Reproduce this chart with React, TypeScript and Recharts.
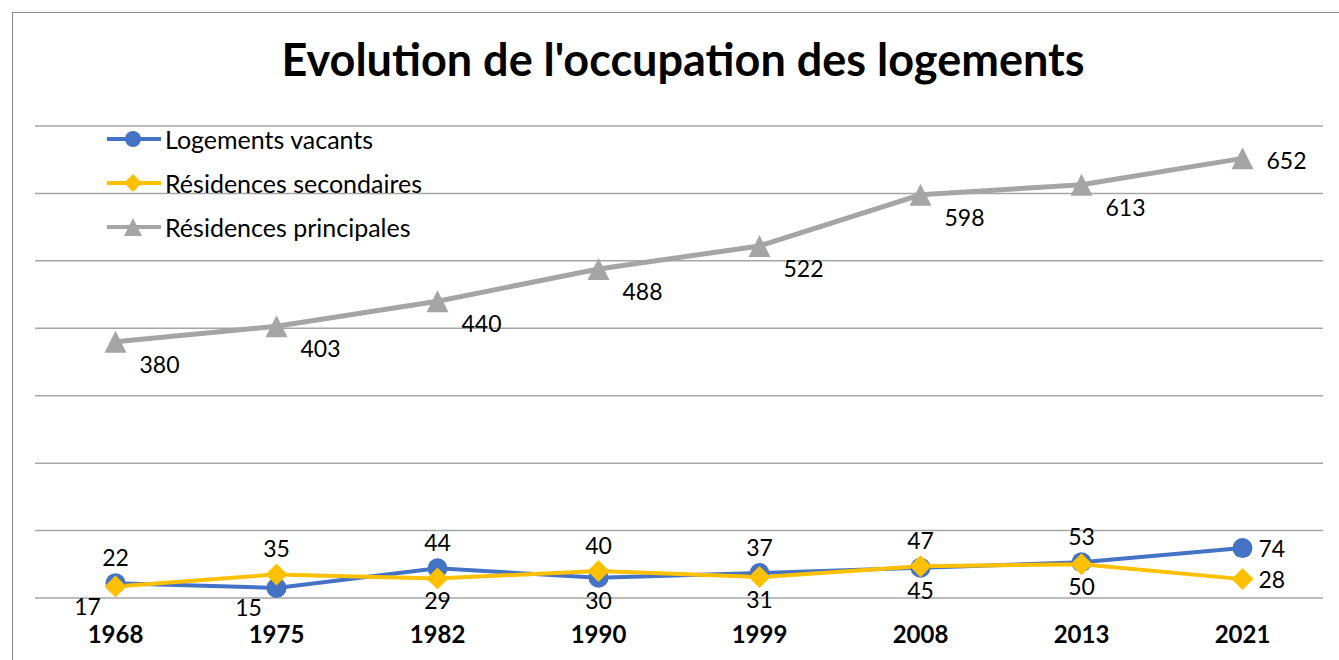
import { LineChart, Line, XAxis, YAxis, CartesianGrid, LabelList } from "recharts";

const years = ["1968", "1975", "1982", "1990", "1999", "2008", "2013", "2021"];
const vacants = [22, 15, 44, 30, 37, 45, 53, 74];
const secondaires = [17, 35, 29, 40, 31, 47, 50, 28];
const principales = [380, 403, 440, 488, 522, 598, 613, 652];
const yTicks = [0, 100, 200, 300, 400, 500, 600, 700];

const series = [
  { key: "vacants", name: "Logements vacants", color: "#4472C4", shape: "circle" },
  { key: "secondaires", name: "Résidences secondaires", color: "#FFC000", shape: "diamond" },
  { key: "principales", name: "Résidences principales", color: "#A5A5A5", shape: "triangle" },
];

const data = years.map((year, i) => ({
  year,
  vacants: vacants[i],
  secondaires: secondaires[i],
  principales: principales[i],
}));

const FONT = "Lato, 'Open Sans', sans-serif";

function Marker({ cx, cy, shape, color, size = 11 }: any) {
  if (cx == null || cy == null) return null;
  if (shape === "circle") return <circle cx={cx} cy={cy} r={size - 1} fill={color} />;
  if (shape === "diamond")
    return (
      <polygon
        points={`${cx},${cy - size} ${cx + size},${cy} ${cx},${cy + size} ${cx - size},${cy}`}
        fill={color}
      />
    );
  return (
    <polygon
      points={`${cx},${cy - size} ${cx + size},${cy + size} ${cx - size},${cy + size}`}
      fill={color}
    />
  );
}

// higher of the two small series gets its label above, the lower one below
function smallLabel(own: number[], other: number[]) {
  return (props: any) => {
    const { x, y, index, value } = props;
    const last = index === own.length - 1;
    if (last) {
      return (
        <text x={x + 16} y={y} dominantBaseline="central" fontSize={23} fontFamily={FONT} fill="#000">
          {value}
        </text>
      );
    }
    const above = own[index] >= other[index];
    // very low labels slide left so they clear the year labels
    const low = !above && own[index] < 20;
    return (
      <text
        x={x + (low ? -28 : 0)}
        y={y + (above ? -26 : low ? 19 : 22)}
        textAnchor="middle"
        dominantBaseline="central"
        fontSize={23}
        fontFamily={FONT}
        fill="#000"
      >
        {value}
      </text>
    );
  };
}

function mainLabel(props: any) {
  const { x, y, index, value } = props;
  const last = index === principales.length - 1;
  return (
    <text
      x={x + 44}
      y={y + (last ? 2 : 22)}
      textAnchor="middle"
      dominantBaseline="central"
      fontSize={23}
      fontFamily={FONT}
      fill="#000"
    >
      {value}
    </text>
  );
}

function LegendBox() {
  return (
    <div style={{ position: "absolute", left: 105, top: 117, fontFamily: FONT, fontSize: 25 }}>
      {series.map((s) => (
        <div key={s.key} style={{ display: "flex", alignItems: "center", height: 44 }}>
          <svg width={58} height={24}>
            <line x1={2} y1={12} x2={56} y2={12} stroke={s.color} strokeWidth={4} />
            <Marker cx={28} cy={12} shape={s.shape} color={s.color} size={9} />
          </svg>
          <span style={{ color: "#000", marginLeft: 2 }}>{s.name}</span>
        </div>
      ))}
    </div>
  );
}

export default function App() {
  return (
    <div style={{ position: "absolute", left: 0, top: 0, width: 1339, height: 660, overflow: "hidden", background: "#fff" }}>
      <div
        style={{
          position: "absolute",
          left: 12,
          top: 12,
          width: 1400,
          height: 700,
          border: "1.5px solid #8c8c8c",
        }}
      />
      <div
        style={{
          position: "absolute",
          left: 0,
          width: 1366,
          top: 32,
          textAlign: "center",
          fontFamily: FONT,
          fontWeight: 700,
          fontSize: 45,
          color: "#000",
        }}
      >
        Evolution de l'occupation des logements
      </div>
      <div style={{ position: "absolute", left: 0, top: 0 }}>
        <LineChart width={1339} height={660} data={data} margin={{ top: 126, right: 16, bottom: 0, left: 35 }}>
          <CartesianGrid vertical={false} stroke="#a6a6a6" strokeWidth={1.5} />
          <XAxis
            dataKey="year"
            scale="band"
            axisLine={false}
            tickLine={false}
            height={62}
            tick={{ fontSize: 24, fontWeight: 700, fill: "#000", fontFamily: FONT }}
            dy={20}
          />
          <YAxis
            domain={[0, 700]}
            ticks={yTicks}
            width={0}
            tick={() => <g />}
            tickLine={false}
            axisLine={{ stroke: "#8c8c8c", strokeWidth: 1.5 }}
          />
          {series.map((s) => {
            const own = s.key === "vacants" ? vacants : s.key === "secondaires" ? secondaires : principales;
            const other = s.key === "vacants" ? secondaires : vacants;
            return (
              <Line
                key={s.key}
                dataKey={s.key}
                name={s.name}
                stroke={s.color}
                strokeWidth={s.key === "principales" ? 5 : 4}
                isAnimationActive={false}
                dot={(p: any) => <Marker key={p.index} cx={p.cx} cy={p.cy} shape={s.shape} color={s.color} />}
                activeDot={false}
              >
                <LabelList
                  dataKey={s.key}
                  content={s.key === "principales" ? mainLabel : smallLabel(own, other)}
                />
              </Line>
            );
          })}
        </LineChart>
      </div>
      <LegendBox />
    </div>
  );
}
